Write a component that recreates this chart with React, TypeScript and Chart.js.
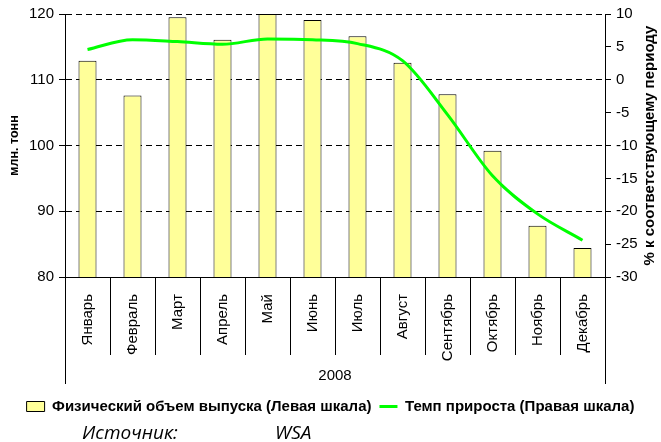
import React, { useEffect, useRef } from "react";
import { Chart, registerables } from "chart.js";
Chart.register(...registerables);

const months = ["Январь", "Февраль", "Март", "Апрель", "Май", "Июнь", "Июль", "Август", "Сентябрь", "Октябрь", "Ноябрь", "Декабрь"];
const outputVolume = [112.9, 107.6, 119.5, 116.1, 120.0, 119.1, 116.6, 112.6, 107.8, 99.2, 87.8, 84.4];
const growthRate = [4.6, 6.1, 5.8, 5.4, 6.2, 6.1, 5.5, 2.9, -5.3, -14.6, -20.4, -24.4];
const barLabel = "Физический объем выпуска (Левая шкала)";
const lineLabel = "Темп прироста (Правая шкала)";
const yearLabel = "2008";
const leftTitle = "млн. тонн";
const rightTitle = "% к соответствующему периоду";
const sourceLabel = "Источник:";
const sourceValue = "WSA";

const FONT = "'Liberation Sans', Arial, sans-serif";
const GREEN = "#00ff00";

const decorPlugin = {
  id: "decor",
  afterDraw(chart: any) {
    const { ctx, chartArea, scales } = chart;
    const x = scales.x;
    const ca = chartArea;
    ctx.save();
    ctx.strokeStyle = "#000";
    ctx.lineWidth = 1;
    const half = (x.getPixelForValue(1) - x.getPixelForValue(0)) / 2;
    ctx.beginPath();
    for (let i = 1; i < months.length; i++) {
      const px = Math.round(x.getPixelForValue(i) - half) + 0.5;
      ctx.moveTo(px, ca.bottom);
      ctx.lineTo(px, ca.bottom + 78);
    }
    const lx = Math.round(ca.left) + 0.5;
    const rx = Math.round(ca.right) + 0.5;
    ctx.moveTo(lx, ca.bottom);
    ctx.lineTo(lx, ca.bottom + 107);
    ctx.moveTo(rx, ca.bottom);
    ctx.lineTo(rx, ca.bottom + 107);
    ctx.stroke();

    ctx.fillStyle = "#000";
    ctx.textAlign = "center";
    ctx.textBaseline = "middle";
    ctx.font = `15px ${FONT}`;
    ctx.fillText(yearLabel, (ca.left + ca.right) / 2, ca.bottom + 99);

    const midY = (ca.top + ca.bottom) / 2;
    ctx.font = `bold 12.5px ${FONT}`;
    ctx.save();
    ctx.translate(15, midY);
    ctx.rotate(-Math.PI / 2);
    ctx.fillText(leftTitle, 0, 0);
    ctx.restore();
    ctx.font = `bold 15px ${FONT}`;
    ctx.save();
    ctx.translate(650, midY);
    ctx.rotate(-Math.PI / 2);
    ctx.fillText(rightTitle, 0, 0);
    ctx.restore();

    ctx.font = `italic 19px 'Open Sans', ${FONT}`;
    ctx.textAlign = "left";
    ctx.textBaseline = "alphabetic";
    ctx.fillText(sourceLabel, 82, 439);
    ctx.fillText(sourceValue, 275, 439);
    ctx.restore();
  },
};

export default function App() {
  const ref = useRef<HTMLCanvasElement>(null);
  useEffect(() => {
    Chart.defaults.font.family = FONT;
    Chart.defaults.color = "#000";
    const chart = new Chart(ref.current!, {
      type: "bar",
      data: {
        labels: months,
        datasets: [
          {
            type: "bar",
            label: barLabel,
            data: outputVolume,
            backgroundColor: "#ffff99",
            borderColor: "#000",
            borderWidth: 1,
            categoryPercentage: 1,
            barPercentage: 0.4,
            yAxisID: "y",
            order: 1,
          },
          {
            type: "line",
            label: lineLabel,
            data: growthRate,
            borderColor: GREEN,
            backgroundColor: GREEN,
            borderWidth: 3,
            tension: 0.4,
            cubicInterpolationMode: "monotone",
            pointRadius: 0,
            yAxisID: "y1",
            order: 0,
          } as any,
        ],
      },
      options: {
        animation: false,
        responsive: false,
        maintainAspectRatio: false,
        layout: { padding: { top: 13, left: 0, right: 0, bottom: 18 } },
        plugins: {
          tooltip: { enabled: false },
          legend: {
            position: "bottom",
            labels: {
              usePointStyle: true,
              pointStyleWidth: 18,
              boxHeight: 10,
              padding: 8,
              color: "#000",
              font: { size: 15, weight: "bold" },
              sort: (a: any, b: any) => a.datasetIndex - b.datasetIndex,
              generateLabels: (chart: any) =>
                chart.data.datasets.map((ds: any, i: number) => ({
                  text: ds.label,
                  datasetIndex: i,
                  fillStyle: ds.type === "bar" ? "#ffff99" : GREEN,
                  strokeStyle: ds.type === "bar" ? "#000" : GREEN,
                  lineWidth: ds.type === "bar" ? 1 : 3,
                  pointStyle: ds.type === "bar" ? "rect" : "line",
                  hidden: false,
                  fontColor: "#000",
                })),
            },
          },
        },
        scales: {
          x: {
            grid: { display: false },
            border: { display: true, color: "#000", width: 1 },
            ticks: { maxRotation: 90, minRotation: 90, padding: 9, font: { size: 15 }, color: "#000" },
            afterFit: (s: any) => { s.height = 114; },
          },
          y: {
            position: "left",
            min: 80,
            max: 120,
            ticks: { stepSize: 10, padding: 5, font: { size: 15 }, color: "#000" },
            grid: { color: "#000", tickLength: 6, tickBorderDash: [], drawTicks: true },
            border: { display: true, color: "#000", dash: [6, 4] },
            afterFit: (s: any) => { s.width = 65; },
          },
          y1: {
            position: "right",
            min: -30,
            max: 10,
            ticks: { stepSize: 5, padding: 5, font: { size: 15 }, color: "#000" },
            grid: { drawOnChartArea: false, color: "#000", tickLength: 6 },
            border: { display: true, color: "#000" },
            afterFit: (s: any) => { s.width = 56; },
          },
        },
      },
      plugins: [decorPlugin],
    } as any);
    return () => chart.destroy();
  }, []);
  return (
    <div style={{ position: "fixed", left: 0, top: 0, width: 661, height: 442, background: "#fff" }}>
      <canvas ref={ref} width={661} height={442} style={{ width: 661, height: 442 }} />
    </div>
  );
}
